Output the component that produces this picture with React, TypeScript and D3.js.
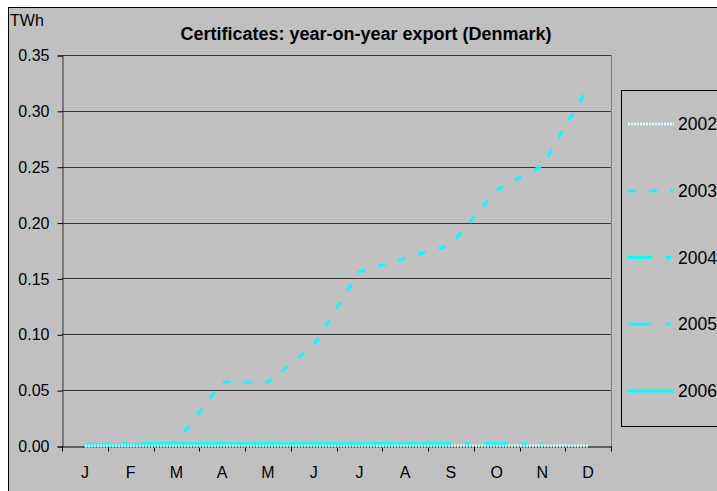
import { useEffect, useRef } from "react";
import * as d3 from "d3";

const months = ["J", "F", "M", "A", "M", "J", "J", "A", "S", "O", "N", "D"];
const yTicks = [0, 0.05, 0.1, 0.15, 0.2, 0.25, 0.3, 0.35];

const series2002 = [0, 0, 0, 0, 0, 0, 0, 0, 0, 0, 0, 0];
const series2003 = [0, 0.001, 0.003, 0.057, 0.057, 0.09, 0.156, 0.168, 0.18, 0.229, 0.251, 0.321];
const series2004 = [0.001, 0.002, 0.002, 0.002, 0.002, 0.002, 0.002, 0.002, 0.002, 0.002, 0.002];
const series2005 = [0.001, 0.002, 0.002, 0.002, 0.002, 0.002, 0.002, 0.002, 0.002, 0.002, 0.002];
const series2006 = [0.001, 0.001, 0.002, 0.002, 0.002, 0.002, 0.002, 0.002, 0.002];

const seriesList = [
  { name: "2002", values: series2002, color: "#ccffff", dash: "2,1" },
  { name: "2003", values: series2003, color: "#00ffff", dash: "8,13" },
  { name: "2004", values: series2004, color: "#00ffff", dash: "24,14,5,14" },
  { name: "2005", values: series2005, color: "#00ffff", dash: "24,14,5,14" },
  { name: "2006", values: series2006, color: "#00ffff", dash: null },
];

export default function App() {
  const svgRef = useRef<SVGSVGElement>(null);

  useEffect(() => {
    const width = 717;
    const height = 491;
    const svg = d3.select(svgRef.current);
    svg.selectAll("*").remove();
    svg.attr("width", width).attr("height", height);

    const font = "Liberation Sans, Arial, sans-serif";
    const margin = { left: 62, top: 55, right: 611, bottom: 446 };

    svg.append("rect").attr("width", width).attr("height", height).attr("fill", "#ffffff");
    svg.append("rect")
      .attr("x", 8.5).attr("y", 7.5).attr("width", 720).attr("height", 500)
      .attr("fill", "#c0c0c0").attr("stroke", "#000").attr("stroke-width", 1);

    const x = d3.scaleBand<string>()
      .domain(months.map((_, i) => String(i)))
      .range([margin.left, margin.right]);
    const y = d3.scaleLinear().domain([0, 0.35]).range([margin.bottom, margin.top]);

    // gridlines
    svg.append("g")
      .selectAll("line")
      .data(yTicks.filter((t) => t > 0))
      .join("line")
      .attr("x1", margin.left).attr("x2", margin.right)
      .attr("y1", (d) => Math.round(y(d)) + 0.5).attr("y2", (d) => Math.round(y(d)) + 0.5)
      .attr("stroke", "#333").attr("stroke-width", 1);

    // right border of plot area
    svg.append("line")
      .attr("x1", margin.right + 0.5).attr("x2", margin.right + 0.5)
      .attr("y1", margin.top).attr("y2", margin.bottom)
      .attr("stroke", "#808080");

    // y axis
    const yAxis = svg.append("g")
      .attr("transform", `translate(${margin.left + 0.5},0.5)`)
      .call(d3.axisLeft(y).tickValues(yTicks).tickFormat(d3.format(".2f")).tickSize(5).tickPadding(8));
    yAxis.select(".domain").attr("stroke", "#333");
    yAxis.selectAll("line").attr("stroke", "#000");
    yAxis.selectAll("text").attr("font-family", font).attr("font-size", 16).attr("fill", "#000");

    // x axis
    const xAxis = svg.append("g")
      .attr("transform", `translate(0,${Math.round(margin.bottom) + 0.5})`)
      .call(
        d3.axisBottom(x).tickFormat((d) => months[+d]).tickSize(0).tickPadding(20)
      );
    xAxis.select(".domain").attr("stroke", "#000");
    xAxis.selectAll("text").attr("font-family", font).attr("font-size", 16).attr("fill", "#000");
    xAxis.selectAll(".tick line").remove();
    xAxis.append("g")
      .selectAll("line")
      .data(d3.range(13))
      .join("line")
      .attr("x1", (i) => Math.round(margin.left + i * x.step()) + 0.5)
      .attr("x2", (i) => Math.round(margin.left + i * x.step()) + 0.5)
      .attr("y1", 0).attr("y2", 5)
      .attr("stroke", "#000");

    const line = d3.line<number>()
      .x((_, i) => (x(String(i)) as number) + x.bandwidth() / 2)
      .y((d) => y(d));

    // draw in reverse so 2002/2003 sit on top
    seriesList.slice().reverse().forEach((s) => {
      svg.append("path")
        .attr("d", line(s.values))
        .attr("fill", "none")
        .attr("stroke", s.color)
        .attr("stroke-width", 3)
        .attr("stroke-dasharray", s.dash)
        .attr("stroke-linejoin", "round");
    });

    // title
    svg.append("text")
      .attr("x", 366).attr("y", 40)
      .attr("text-anchor", "middle")
      .attr("font-family", font).attr("font-size", 18).attr("font-weight", "bold")
      .text("Certificates: year-on-year export (Denmark)");

    svg.append("text")
      .attr("x", 10).attr("y", 26)
      .attr("font-family", font).attr("font-size", 16)
      .text("TWh");

    // legend
    const legend = svg.append("g");
    legend.append("rect")
      .attr("x", 621.5).attr("y", 90.5).attr("width", 120).attr("height", 336)
      .attr("fill", "#c0c0c0").attr("stroke", "#000");
    const ly = d3.scalePoint<string>()
      .domain(seriesList.map((s) => s.name))
      .range([124, 391]);
    seriesList.forEach((s) => {
      const yy = ly(s.name) as number;
      legend.append("line")
        .attr("x1", 628).attr("x2", 674)
        .attr("y1", yy).attr("y2", yy)
        .attr("stroke", s.color).attr("stroke-width", 3)
        .attr("stroke-dasharray", s.dash);
      legend.append("text")
        .attr("x", 678).attr("y", yy + 6)
        .attr("font-family", font).attr("font-size", 17.5)
        .text(s.name);
    });
  }, []);

  return (
    <div style={{ position: "absolute", left: 0, top: 0 }}>
      <svg ref={svgRef} style={{ display: "block" }} />
    </div>
  );
}
